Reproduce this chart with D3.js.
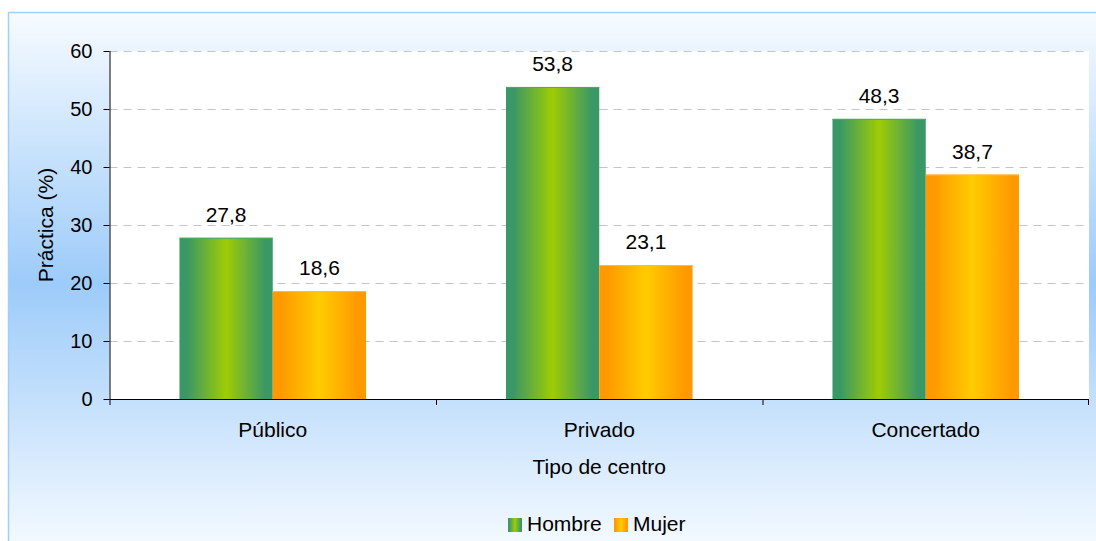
<!DOCTYPE html>
<html>
<head>
<meta charset="utf-8">
<script src="https://cdn.jsdelivr.net/npm/d3@7"></script>
<style>
  body { margin: 0; background: #fff; }
  text { font-family: "Liberation Sans", Arial, sans-serif; fill: #000; }
</style>
</head>
<body>
<div id="chart"></div>
<script>
const categories = ["Público", "Privado", "Concertado"];
const series = ["Hombre", "Mujer"];
const hombre = [27.8, 53.8, 48.3];
const mujer = [18.6, 23.1, 38.7];
const yTicks = [0, 10, 20, 30, 40, 50, 60];

const W = 1096, H = 541;
const margin = {top: 51, right: 7, bottom: 142, left: 109.5},
      width = 1089 - margin.left,
      height = 399 - margin.top;

const svg = d3.select("#chart")
    .append("svg")
    .attr("width", W)
    .attr("height", H);

const defs = svg.append("defs");

// background gradient (light - blue - light)
const bg = defs.append("linearGradient").attr("id", "bg")
    .attr("x1", 0).attr("y1", 0).attr("x2", 0).attr("y2", 1);
bg.append("stop").attr("offset", 0).attr("stop-color", "#f7fbff");
bg.append("stop").attr("offset", 0.5).attr("stop-color", "#9dcbfa");
bg.append("stop").attr("offset", 1).attr("stop-color", "#f7fbff");

// bar gradients
function barGrad(id, edge, mid) {
  const g = defs.append("linearGradient").attr("id", id)
      .attr("x1", 0).attr("y1", 0).attr("x2", 1).attr("y2", 0);
  g.append("stop").attr("offset", 0).attr("stop-color", edge);
  g.append("stop").attr("offset", 0.08).attr("stop-color", edge);
  g.append("stop").attr("offset", 0.5).attr("stop-color", mid);
  g.append("stop").attr("offset", 0.92).attr("stop-color", edge);
  g.append("stop").attr("offset", 1).attr("stop-color", edge);
}
barGrad("gHombre", "#3a9866", "#9ecc05");
barGrad("gMujer", "#ff9900", "#ffcc00");
const fills = {Hombre: "url(#gHombre)", Mujer: "url(#gMujer)"};

// chart area
svg.append("rect")
    .attr("x", 8.5).attr("y", 12.5)
    .attr("width", W).attr("height", H)
    .attr("fill", "url(#bg)")
    .attr("stroke", "#9fd0fa")
    .attr("stroke-width", 1.5);

const g = svg.append("g")
    .attr("transform", `translate(${margin.left}, ${margin.top})`);

// plot area
g.append("rect")
    .attr("width", width).attr("height", height)
    .attr("fill", "#fff");

// scales
const x0 = d3.scaleBand().domain(categories).range([0, width]);
const bw = x0.bandwidth();
const barW = bw / 3.5;
const x1 = d3.scaleBand().domain(series)
    .range([barW * 0.75, bw - barW * 0.75]);
const y = d3.scaleLinear().domain([0, 60]).range([height, 0]);

// gridlines
g.append("g")
  .selectAll("line")
  .data(yTicks.filter(d => d > 0))
  .join("line")
    .attr("x1", 0).attr("x2", width)
    .attr("y1", d => Math.round(y(d)) + 0.5)
    .attr("y2", d => Math.round(y(d)) + 0.5)
    .attr("stroke", "#c4c4c4")
    .attr("stroke-dasharray", "8,6");

// bars
const data = categories.map((c, i) => ({cat: c, vals: [
  {s: "Hombre", v: hombre[i]},
  {s: "Mujer", v: mujer[i]}
]}));

const groups = g.append("g")
  .selectAll("g")
  .data(data)
  .join("g")
    .attr("transform", d => `translate(${x0(d.cat)}, 0)`);

groups.selectAll("rect")
  .data(d => d.vals)
  .join("rect")
    .attr("x", d => x1(d.s))
    .attr("y", d => y(d.v))
    .attr("width", x1.bandwidth())
    .attr("height", d => height - y(d.v))
    .attr("fill", d => fills[d.s]);

// light top edge
groups.selectAll("line.top")
  .data(d => d.vals)
  .join("line")
    .attr("class", "top")
    .attr("x1", d => x1(d.s))
    .attr("x2", d => x1(d.s) + x1.bandwidth())
    .attr("y1", d => y(d.v) + 0.5)
    .attr("y2", d => y(d.v) + 0.5)
    .attr("stroke", d => d.s === "Hombre" ? "#4caa62" : "#ffb84d")
    .attr("stroke-width", 1);

groups.selectAll("text")
  .data(d => d.vals)
  .join("text")
    .attr("x", d => x1(d.s) + x1.bandwidth() / 2)
    .attr("y", d => y(d.v) - 16)
    .attr("text-anchor", "middle")
    .style("font-size", "21px")
    .text(d => String(d.v).replace(".", ","));

// Y axis
const yAxis = g.append("g")
    .call(d3.axisLeft(y).tickValues(yTicks).tickSize(6).tickPadding(11));
yAxis.selectAll("text").style("font-size", "20px");
yAxis.select(".domain").attr("d", `M0.5,0V${height}`).attr("stroke", "#000");
yAxis.selectAll(".tick line").attr("stroke", "#000");

// X axis
const xAxis = g.append("g")
    .attr("transform", `translate(0, ${height})`);
xAxis.append("line")
    .attr("x1", 0).attr("x2", width)
    .attr("y1", 0.5).attr("y2", 0.5)
    .attr("stroke", "#000");
xAxis.selectAll("line.tk")
  .data(categories.concat(["end"]))
  .join("line")
    .attr("class", "tk")
    .attr("x1", (d, i) => i < categories.length ? x0(d) + 0.5 : width - 0.5)
    .attr("x2", (d, i) => i < categories.length ? x0(d) + 0.5 : width - 0.5)
    .attr("y1", 0).attr("y2", 6)
    .attr("stroke", "#000");
xAxis.selectAll("text")
  .data(categories)
  .join("text")
    .attr("x", d => x0(d) + bw / 2)
    .attr("y", 38)
    .attr("text-anchor", "middle")
    .style("font-size", "21px")
    .text(d => d);

// axis titles
svg.append("text")
    .attr("transform", `translate(${margin.left + width / 2}, 474)`)
    .attr("text-anchor", "middle")
    .style("font-size", "21px")
    .text("Tipo de centro");

svg.append("text")
    .attr("transform", `translate(53, ${margin.top + height / 2}) rotate(-90)`)
    .attr("text-anchor", "middle")
    .style("font-size", "21px")
    .text("Práctica (%)");

// legend
const legX = [508, 614];
const leg = svg.append("g");
series.forEach((s, i) => {
  leg.append("rect")
      .attr("x", legX[i]).attr("y", 518)
      .attr("width", 14).attr("height", 14)
      .attr("fill", fills[s]);
  leg.append("text")
      .attr("x", legX[i] + 19).attr("y", 531)
      .style("font-size", "21px")
      .text(s);
});
</script>
</body>
</html>
